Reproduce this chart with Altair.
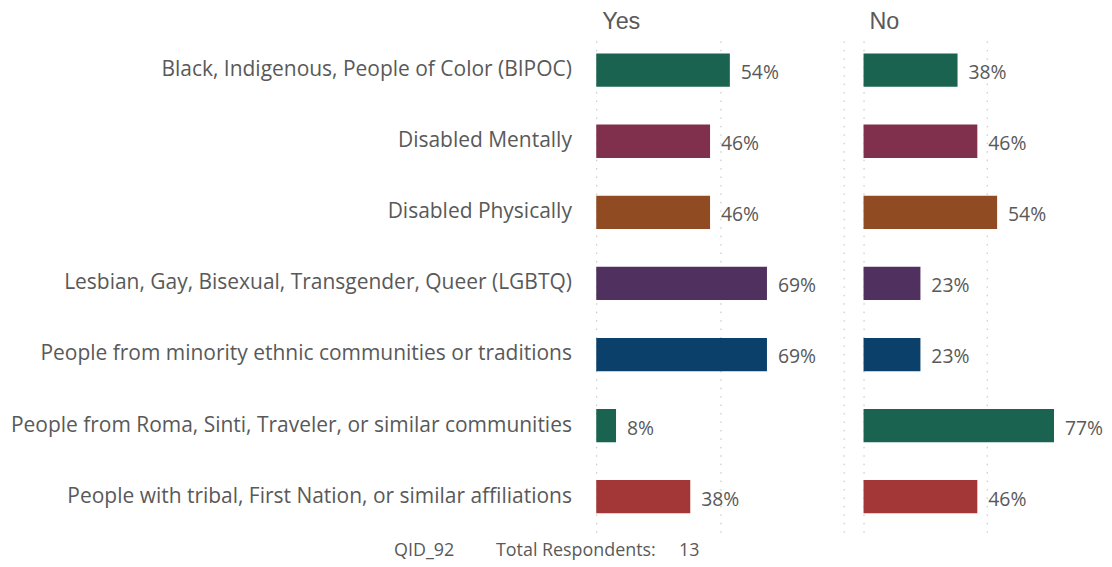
import altair as alt
import pandas as pd

categories = [
    "Black, Indigenous, People of Color (BIPOC)",
    "Disabled Mentally",
    "Disabled Physically",
    "Lesbian, Gay, Bisexual, Transgender, Queer (LGBTQ)",
    "People from minority ethnic communities or traditions",
    "People from Roma, Sinti, Traveler, or similar communities",
    "People with tribal, First Nation, or similar affiliations",
]
yes_values = [54, 46, 46, 69, 69, 8, 38]
no_values = [38, 46, 54, 23, 23, 77, 46]
bar_colors = ["#1a6350", "#80304c", "#914b22", "#50305f", "#0b406b", "#1a6350", "#a33637"]
panels = ["Yes", "No"]
footer_parts = ["QID_92", "Total Respondents:", "13"]

rows = []
for c, y, n in zip(categories, yes_values, no_values):
    rows.append({"category": c, "group": "Yes", "value": y})
    rows.append({"category": c, "group": "No", "value": n})
df = pd.DataFrame(rows)

GRAY = "#595959"
FONT = "Open Sans"
STEP = 71.55


def panel(group, width, dom_max, grid_vals, show_labels):
    data = df[df["group"] == group]
    if show_labels:
        yaxis = alt.Axis(
            title=None, ticks=False, domain=False, grid=False,
            labelFont=FONT, labelFontSize=21.1, labelColor=GRAY,
            labelPadding=25, labelLimit=700,
        )
    else:
        yaxis = None
    base = alt.Chart(data).encode(
        y=alt.Y("category:N", sort=categories, axis=yaxis,
                scale=alt.Scale(paddingInner=0, paddingOuter=0)),
        x=alt.X("value:Q",
                scale=alt.Scale(domain=[0, dom_max], nice=False, zero=True),
                axis=alt.Axis(values=grid_vals, grid=True, gridDash=[1.5, 7],
                              gridColor="#bdbdbd", gridWidth=1,
                              labels=False, ticks=False, domain=False, title=None)),
    )
    bars = base.mark_bar(size=33.5).encode(
        color=alt.Color("category:N", scale=alt.Scale(domain=categories, range=bar_colors),
                        legend=None)
    )
    text = base.transform_calculate(label="datum.value + '%'").mark_text(
        align="left", baseline="middle", dx=11, dy=3, font=FONT, fontSize=19.5, color=GRAY
    ).encode(text="label:N")
    return alt.layer(bars, text).properties(
        width=width,
        height=STEP * len(categories),
        title=alt.TitleParams(group, anchor="start", frame="group", fontSize=23.5,
                              font="Liberation Sans", fontWeight="normal", color=GRAY,
                              offset=1.5, baseline="top", dx=6),
    )


yes_panel = panel("Yes", 249, 100, [0, 50, 100], True)
no_panel = panel("No", 236, 94.8, [0, 50], False)

sep = "\u00a0" * 9
sep2 = "\u00a0" * 5
footer = footer_parts[0] + sep + footer_parts[1] + sep2 + footer_parts[2]

chart = alt.hconcat(yes_panel, no_panel, spacing=20).properties(
    padding={"left": 2, "top": 0, "right": 0, "bottom": 0},
    title=alt.TitleParams(footer, orient="bottom", anchor="middle", font=FONT,
                          fontSize=18, fontWeight="normal", color=GRAY, offset=10, dx=-10),
).configure_view(stroke=None).configure_concat(spacing=20)

chart.save("out.html", embed_options={"renderer": "svg", "actions": False})
